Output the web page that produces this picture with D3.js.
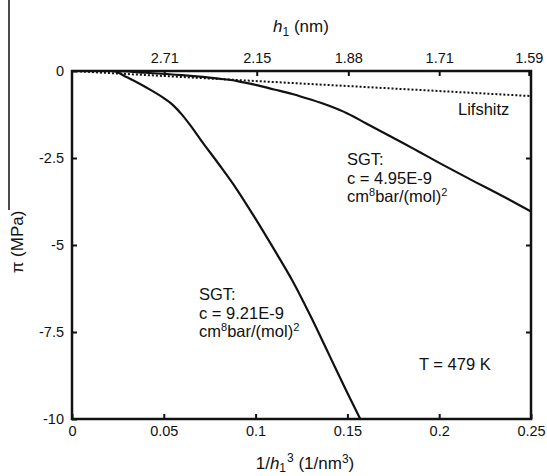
<!DOCTYPE html>
<html lang="en">
<head>
<meta charset="UTF-8">
<title>Disjoining pressure</title>
<script src="https://d3js.org/d3.v7.min.js"></script>
<style>
  body { margin: 0; background: #fff; }
  svg text { font-family: "Liberation Sans", Arial, sans-serif; fill: #111; }
</style>
</head>
<body>
<svg id="chart" width="547" height="476"></svg>
<script>
// data
var xTicks = [0, 0.05, 0.1, 0.15, 0.2, 0.25]
var yTicks = [0, -2.5, -5, -7.5, -10]
var hTicks = ["2.71", "2.15", "1.88", "1.71", "1.59"]

// Lifshitz (linear in 1/h^3)
var lifX = [0, 0.25]
var lifY = [0, -0.72]

// SGT c = 4.95E-9
var sgt1X = [0, 0.022, 0.04, 0.06, 0.08, 0.09, 0.1, 0.11, 0.12, 0.13, 0.14, 0.15, 0.16, 0.17, 0.18, 0.19, 0.2, 0.21, 0.22, 0.23, 0.24, 0.25]
var sgt1Y = [0, 0, -0.05, -0.12, -0.22, -0.29, -0.4, -0.53, -0.66, -0.82, -1.0, -1.22, -1.5, -1.78, -2.06, -2.35, -2.64, -2.92, -3.2, -3.47, -3.75, -4.04]

// SGT c = 9.21E-9
var sgt2X = [0, 0.022, 0.03, 0.04, 0.05, 0.055, 0.06, 0.065, 0.07, 0.08, 0.09, 0.1, 0.11, 0.12, 0.13, 0.14, 0.15, 0.157]
var sgt2Y = [0, 0, -0.18, -0.46, -0.78, -0.98, -1.26, -1.6, -1.97, -2.68, -3.42, -4.25, -5.12, -6.02, -7.05, -8.15, -9.25, -10]

var svg = d3.select('#chart')
var plotL = 72, plotR = 531, plotT = 71, plotB = 419

var x = d3.scaleLinear().domain([0, 0.25]).range([plotL, plotR])
var y = d3.scaleLinear().domain([-10, 0]).range([plotB, plotT])

// stray crop line on the left edge of the original figure
svg.append('line')
  .attr('x1', 9).attr('x2', 9).attr('y1', 0).attr('y2', 210)
  .attr('stroke', '#111').attr('stroke-width', 1.5)

function styleAxis(g) {
  g.select('.domain').remove()
  g.selectAll('.tick line').attr('stroke', '#111').attr('stroke-width', 2)
  g.selectAll('.tick text').attr('font-size', 14.5).attr('fill', '#111')
    .style('font-family', '"Liberation Sans", Arial, sans-serif')
}

// bottom axis
svg.append('g').attr('transform', 'translate(0,' + plotB + ')')
  .call(d3.axisBottom(x).tickValues(xTicks).tickSize(-5).tickPadding(7)
    .tickFormat(function(d) { return String(d) }))
  .call(styleAxis)

// left axis
svg.append('g').attr('transform', 'translate(' + plotL + ',0)')
  .call(d3.axisLeft(y).tickValues(yTicks).tickSize(-5).tickPadding(8)
    .tickFormat(function(d) { return String(d) }))
  .call(styleAxis)

// right ticks
svg.append('g').attr('transform', 'translate(' + plotR + ',0)')
  .call(d3.axisRight(y).tickValues(yTicks.slice(1, 4)).tickSize(-5).tickFormat(''))
  .call(styleAxis)

// top axis in h1
var hVals = hTicks.map(function(h) { return 1 / Math.pow(+h, 3) })
svg.append('g').attr('transform', 'translate(0,' + plotT + ')')
  .call(d3.axisTop(x).tickValues(hVals).tickSize(-5).tickPadding(8)
    .tickFormat(function(d, i) { return hTicks[i] }))
  .call(styleAxis)

// frame
svg.append('rect')
  .attr('x', plotL).attr('y', plotT)
  .attr('width', plotR - plotL).attr('height', plotB - plotT)
  .attr('fill', 'none').attr('stroke', '#111').attr('stroke-width', 2.5)

var clip = svg.append('clipPath').attr('id', 'clip')
clip.append('rect').attr('x', plotL).attr('y', plotT)
  .attr('width', plotR - plotL).attr('height', plotB - plotT)

var line = d3.line().curve(d3.curveMonotoneX)
  .x(function(d) { return x(d[0]) })
  .y(function(d) { return y(d[1]) })

function pairs(xs, ys) { return xs.map(function(v, i) { return [v, ys[i]] }) }

var plot = svg.append('g').attr('clip-path', 'url(#clip)')

plot.append('path').datum(pairs(lifX, lifY))
  .attr('d', line).attr('fill', 'none')
  .attr('stroke', '#111').attr('stroke-width', 2).attr('stroke-dasharray', '2,2')

plot.append('path').datum(pairs(sgt1X, sgt1Y))
  .attr('d', line).attr('fill', 'none')
  .attr('stroke', '#111').attr('stroke-width', 2.2)

plot.append('path').datum(pairs(sgt2X, sgt2Y))
  .attr('d', line).attr('fill', 'none')
  .attr('stroke', '#111').attr('stroke-width', 2.2)

// axis titles
var ht = svg.append('text').attr('x', 301).attr('y', 32)
  .attr('text-anchor', 'middle').attr('font-size', 17)
ht.append('tspan').attr('font-style', 'italic').text('h')
ht.append('tspan').attr('font-size', 12).attr('dy', 4).text('1')
ht.append('tspan').attr('dy', -4).text(' (nm)')

var xt = svg.append('text').attr('x', 305).attr('y', 469)
  .attr('text-anchor', 'middle').attr('font-size', 17)
xt.append('tspan').text('1/')
xt.append('tspan').attr('font-style', 'italic').text('h')
xt.append('tspan').attr('font-size', 12).attr('dy', 3).text('1')
xt.append('tspan').attr('font-size', 12).attr('dy', -10).attr('dx', 1).text('3')
xt.append('tspan').attr('dy', 7).text(' (1/nm')
xt.append('tspan').attr('font-size', 12).attr('dy', -6).text('3')
xt.append('tspan').attr('dy', 6).text(')')

svg.append('text')
  .attr('transform', 'translate(23,242) rotate(-90)')
  .attr('text-anchor', 'middle').attr('font-size', 17)
  .text('\u03c0 (MPa)')

// annotations
function unitsLine(g, xp, yp) {
  var t = g.append('text').attr('x', xp).attr('y', yp).attr('font-size', 16.5)
  t.append('tspan').text('cm')
  t.append('tspan').attr('font-size', 11).attr('dy', -6).text('8')
  t.append('tspan').attr('dy', 6).text('bar/(mol)')
  t.append('tspan').attr('font-size', 11).attr('dy', -6).text('2')
}

function sgtLabel(xp, yp, c) {
  var g = svg.append('g')
  g.append('text').attr('x', xp).attr('y', yp).attr('font-size', 16.5).text('SGT:')
  g.append('text').attr('x', xp).attr('y', yp + 18.5).attr('font-size', 16.5).text('c = ' + c)
  unitsLine(g, xp, yp + 37)
}

sgtLabel(347, 165, '4.95E-9')
sgtLabel(199, 300, '9.21E-9')

svg.append('text').attr('x', 458).attr('y', 115).attr('font-size', 16.5).text('Lifshitz')
svg.append('text').attr('x', 419).attr('y', 370).attr('font-size', 16.5).text('T = 479 K')
</script>
</body>
</html>
